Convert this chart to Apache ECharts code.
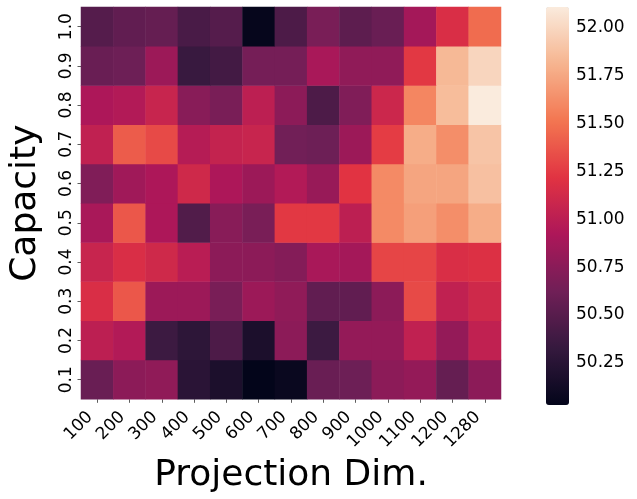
<!DOCTYPE html>
<html>
<head>
<meta charset="utf-8">
<script src="https://cdn.jsdelivr.net/npm/echarts@6/dist/echarts.min.js"></script>
<style>html,body{margin:0;padding:0;background:#fff;}#c{width:637px;height:499px;}</style>
</head>
<body>
<div id="c"></div>
<script>
const projDims = ['100','200','300','400','500','600','700','800','900','1000','1100','1200','1280'];
const capacities = ['0.1','0.2','0.3','0.4','0.5','0.6','0.7','0.8','0.9','1.0'];
const row_0_1 = [50.59,50.76,50.78,50.26,50.18,50.03,50.07,50.59,50.61,50.76,50.80,50.57,50.76];
const row_0_2 = [51.01,50.95,50.36,50.28,50.45,50.18,50.76,50.36,50.80,50.80,51.03,50.80,51.03];
const row_0_3 = [51.17,51.38,50.84,50.84,50.67,50.84,50.78,50.55,50.55,50.76,51.32,51.03,51.11];
const row_0_4 = [51.07,51.17,51.11,50.99,50.76,50.76,50.72,50.90,50.88,51.30,51.30,51.17,51.19];
const row_0_5 = [50.90,51.38,50.92,50.47,50.74,50.67,51.24,51.24,51.01,51.61,51.71,51.63,51.78];
const row_0_6 = [50.70,50.86,50.92,51.11,50.92,50.84,50.95,50.82,51.22,51.61,51.74,51.74,51.88];
const row_0_7 = [51.03,51.40,51.32,50.97,51.05,51.07,50.63,50.61,50.84,51.26,51.78,51.63,51.90];
const row_0_8 = [50.92,50.95,51.07,50.74,50.67,51.01,50.76,50.45,50.70,51.09,51.59,51.86,52.11];
const row_0_9 = [50.59,50.61,50.84,50.34,50.40,50.65,50.65,50.90,50.78,50.78,51.24,51.84,51.99];
const row_1_0 = [50.49,50.55,50.57,50.43,50.49,50.05,50.45,50.67,50.53,50.59,50.88,51.17,51.47];
const rows = [row_0_1,row_0_2,row_0_3,row_0_4,row_0_5,row_0_6,row_0_7,row_0_8,row_0_9,row_1_0];
const colorbarTicks = [50.25,50.50,50.75,51.00,51.25,51.50,51.75,52.00];
const vMin = 50.03, vMax = 52.11;

const rocket = ['#03051a','#35193e','#701f57','#ad1759','#e13342','#f37651','#f6b48f','#faebdd'];

const data = [];
rows.forEach((r, yi) => r.forEach((v, xi) => data.push([xi, yi, v])));

const chart = echarts.init(document.getElementById('c'), null, {renderer: 'canvas'});
const font = 'DejaVu Sans';
chart.setOption({
  animation: false,
  backgroundColor: '#ffffff',
  grid: [
    {left: 75, top: 7, width: 426, height: 398, containLabel: false},
    {left: 546, top: 7, width: 23, height: 398, containLabel: false}
  ],
  xAxis: [
    {
      type: 'category', gridIndex: 0, data: projDims,
      name: 'Projection Dim.', nameLocation: 'middle', nameGap: 56,
      nameTextStyle: {fontSize: 36, color: '#000', fontFamily: font},
      axisLine: {show: false},
      axisTick: {show: true, alignWithLabel: true, length: 3.5, lineStyle: {color: '#333', width: 0.8}},
      axisLabel: {rotate: 45, fontSize: 17, color: '#000', fontFamily: font, margin: 8, padding: [0, 10, 0, 0], interval: 0},
      splitLine: {show: false}
    },
    {type: 'value', gridIndex: 1, show: false, min: 0, max: 1}
  ],
  yAxis: [
    {
      type: 'category', gridIndex: 0, data: capacities,
      name: 'Capacity', nameLocation: 'middle', nameGap: 37, nameRotate: 90,
      nameTextStyle: {fontSize: 36, color: '#000', fontFamily: font},
      axisLine: {show: false},
      axisTick: {show: true, alignWithLabel: true, length: 3.5, lineStyle: {color: '#333', width: 0.8}},
      axisLabel: {rotate: 90, fontSize: 17, color: '#000', fontFamily: font, margin: 6, interval: 0},
      splitLine: {show: false}
    },
    {
      type: 'value', gridIndex: 1, position: 'right', min: vMin, max: vMax,
      axisLine: {show: false},
      splitLine: {show: false},
      axisTick: {show: true, length: 3.5, customValues: colorbarTicks, lineStyle: {color: '#555', width: 0.8}},
      axisLabel: {show: true, customValues: colorbarTicks, fontSize: 17, color: '#000', fontFamily: font, margin: 7,
        formatter: v => Number(v).toFixed(2)}
    }
  ],
  visualMap: {
    type: 'continuous', seriesIndex: 0, min: vMin, max: vMax,
    calculable: false, hoverLink: false, realtime: false,
    left: 546, top: 7, itemWidth: 23, itemHeight: 398, padding: 0,
    orient: 'vertical',
    inRange: {color: rocket}
  },
  series: [
    {
      type: 'heatmap', xAxisIndex: 0, yAxisIndex: 0, data: data,
      itemStyle: {borderWidth: 0},
      emphasis: {disabled: true}
    },
    {type: 'scatter', xAxisIndex: 1, yAxisIndex: 1, data: []}
  ]
});
</script>
</body>
</html>
